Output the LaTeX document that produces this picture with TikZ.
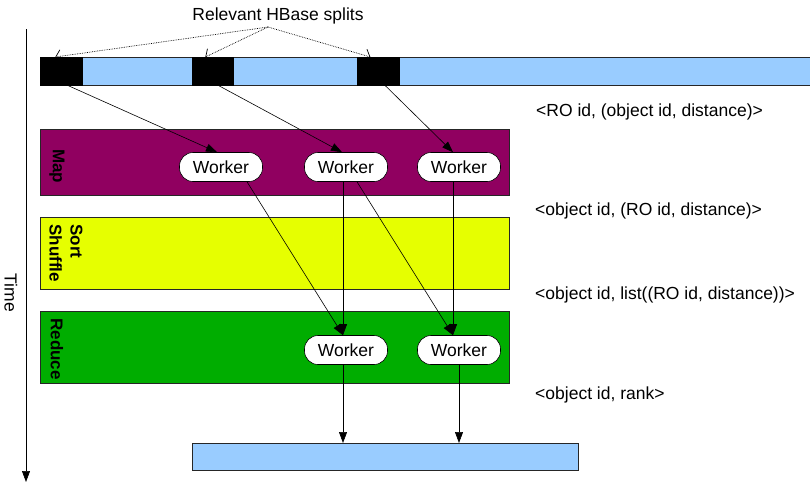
\documentclass[tikz,border=0pt]{standalone}
\usepackage{fontspec}
\setmainfont{Liberation Sans}
\usetikzlibrary{arrows.meta,calc}
\definecolor{mapc}{HTML}{900060}
\definecolor{sortc}{HTML}{E6FF00}
\definecolor{redc}{HTML}{00AD00}
\definecolor{barc}{HTML}{99CCFF}
\begin{document}
\begin{tikzpicture}[x=1pt,y=-1pt,
  font=\fontsize{17.5}{21}\selectfont,
  box/.style={draw=black!85, line width=0.7pt, anchor=north west, inner sep=0pt},
  worker/.style={draw=black, fill=white, rounded corners=13.5pt, minimum width=83pt, minimum height=29pt, inner sep=0pt, line width=0.6pt},
  arr/.style={-{Triangle[length=11pt,width=8pt]}, line width=0.6pt},
  dotarr/.style={densely dotted, -{Straight Barb[length=5pt,width=13pt]}, line width=0.7pt},
  phaselabel/.style={rotate=-90, font=\fontsize{17}{21}\selectfont\bfseries},
  kv/.style={anchor=west, inner sep=0pt}]
\useasboundingbox (0,0) rectangle (810,482);

% time axis
\coordinate (t0) at (26,29);
\coordinate (t1) at (26,482);
\draw[arr] (t0) -- (t1);
\node[rotate=-90] (time) at (11,293) {Time};

% top HBase bar
\node[box, fill=barc, minimum width=772pt, minimum height=28pt] (hb) at (40,57) {};
\node[box, fill=black, draw=black, minimum width=42pt, minimum height=28pt] (s1) at (40,57) {};
\node[box, fill=black, draw=black, minimum width=41pt, minimum height=28pt] (s2) at (192,57) {};
\node[box, fill=black, draw=black, minimum width=42pt, minimum height=28pt] (s3) at (357,57) {};

\node (hl) at (278,16) {Relevant HBase splits};
\coordinate (hls) at (268,27);
\draw[dotarr] (hls) -- ($(s1.north)+(-6,0)$);
\draw[dotarr] (hls) -- ($(s2.north)+(-7.5,0)$);
\draw[dotarr] (hls) -- ($(s3.north)+(-8,0)$);

% phases
\node[box, fill=mapc, minimum width=469pt, minimum height=66pt] (map) at (40,129) {};
\node[box, fill=sortc, minimum width=469pt, minimum height=72pt] (sort) at (40,217) {};
\node[box, fill=redc, minimum width=469pt, minimum height=72pt] (red) at (40,311) {};

\node[phaselabel] (maplab) at (57,166) {Map};
\node[phaselabel, anchor=west, align=left] (sortlab) at (66,221) {Sort\\Shuffle};
\node[phaselabel] (redlab) at (57,349) {Reduce};

% workers
\node[worker] (w1) at (221,167) {Worker};
\node[worker] (w2) at (346,167) {Worker};
\node[worker] (w3) at (459,167) {Worker};
\node[worker] (r1) at (346,350) {Worker};
\node[worker] (r2) at (459,350) {Worker};

% output
\node[box, fill=barc, minimum width=386pt, minimum height=27pt] (out) at (192,443) {};

% arrows
\draw[arr] ($(s1.south)+(7,0)$) -- ($(w1.north)+(-4,0)$);
\draw[arr] ($(s2.south)+(6,0)$) -- ($(w2.north)+(-4,0)$);
\draw[arr] ($(s3.south)+(7,0)$) -- ($(w3.north)+(-6,0)$);
\draw[arr] ($(w1.south)+(26,0)$) -- ($(r1.north)+(-3,0)$);
\draw[arr] ($(w2.south)+(-3,0)$) -- ($(r1.north)+(-3,0)$);
\draw[arr] ($(w2.south)+(11,0)$) -- ($(r2.north)+(-6,0)$);
\draw[arr] ($(w3.south)+(-6,0)$) -- ($(r2.north)+(-6,0)$);
\coordinate (r1b) at ($(r1.south)+(-3,0)$);
\draw[arr] (r1b) -- (r1b |- out.north);
\draw[arr] (r2.south) -- (r2.south |- out.north);

% key/value labels
\node[kv] (kv1) at (536,112) {<RO id, (object id, distance)>};
\node[kv] (kv2) at (535,211) {<object id, (RO id, distance)>};
\node[kv] (kv3) at (535,295) {<object id, list((RO id, distance))>};
\node[kv] (kv4) at (535,395) {<object id, rank>};
\end{tikzpicture}
\end{document}
